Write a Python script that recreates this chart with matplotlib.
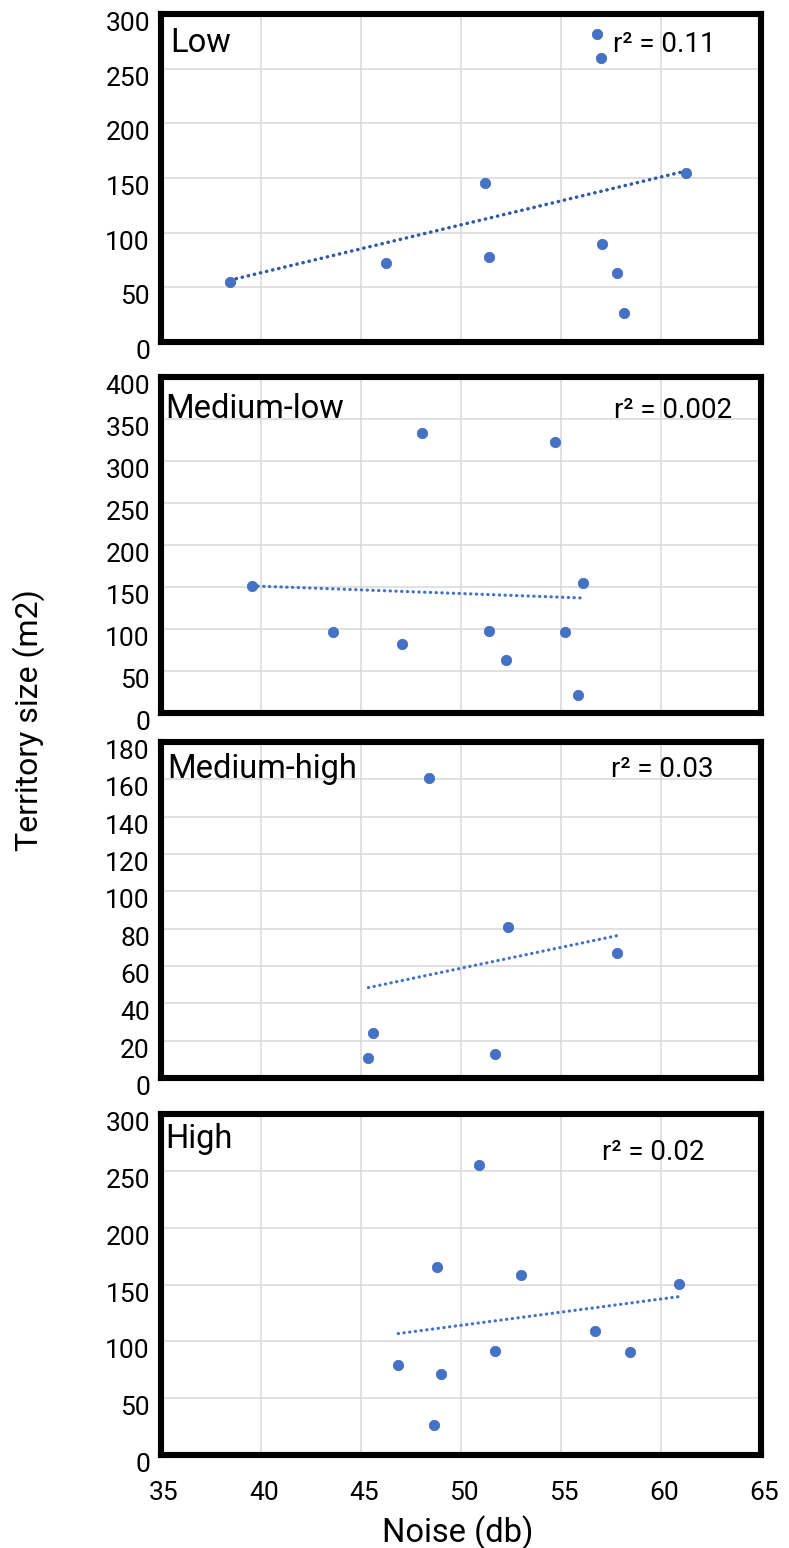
import matplotlib
matplotlib.use("Agg")
import matplotlib.pyplot as plt
import matplotlib.transforms as mtransforms
import numpy as np

plt.rcParams["font.family"] = ["Roboto", "DejaVu Sans"]

# values
low_noise = [38.45, 46.25, 51.18, 51.38, 56.82, 56.99, 57.06, 57.78, 58.17, 61.23]
low_size = [55.2, 72.0, 145.6, 77.5, 282.0, 259.8, 90.0, 62.9, 26.3, 155.0]

medlow_noise = [39.56, 43.60, 47.03, 48.06, 51.38, 52.27, 54.72, 55.18, 56.10, 55.86]
medlow_size = [151.5, 96.8, 81.7, 333.0, 97.2, 63.0, 322.6, 96.4, 155.2, 21.4]

medhigh_noise = [45.37, 45.59, 48.41, 51.68, 52.36, 57.80]
medhigh_size = [10.5, 23.9, 160.9, 12.7, 80.7, 66.8]

high_noise = [46.86, 48.65, 48.82, 49.02, 50.90, 51.70, 53.01, 56.71, 58.43, 60.90]
high_size = [79.0, 26.4, 165.2, 71.6, 255.3, 91.5, 158.7, 109.4, 90.9, 150.8]

panel_names = ["Low", "Medium-low", "Medium-high", "High"]
r2_labels = ["r² = 0.11", "r² = 0.002", "r² = 0.03", "r² = 0.02"]
y_maxes = [300, 400, 180, 300]
y_steps = [50, 50, 20, 50]
x_ticks = [35, 40, 45, 50, 55, 60, 65]

BLUE = "#4472C4"
trend_colors = ["#2F5AA6", BLUE, BLUE, BLUE]
W, H = 789, 1548

fig = plt.figure(figsize=(W / 100, H / 100), dpi=100)

# (top px, bottom px) of each plotting area
rows = [(14, 342), (377, 713), (742, 1078), (1114, 1455)]
left_px, right_px = 161, 761

# (label x, label baseline), (r2 x, r2 baseline) in axes fractions
label_pos = [(0.015, 0.885), (0.007, 0.878), (0.011, 0.893), (0.007, 0.900)]
r2_pos = [(0.753, 0.885), (0.755, 0.878), (0.750, 0.896), (0.735, 0.865)]

series = [
    (low_noise, low_size),
    (medlow_noise, medlow_size),
    (medhigh_noise, medhigh_size),
    (high_noise, high_size),
]

y_shift = mtransforms.ScaledTranslation(0, -7.5 / 100, fig.dpi_scale_trans)
x_shift = mtransforms.ScaledTranslation(3 / 100, 0, fig.dpi_scale_trans)

for i, (xs, ys) in enumerate(series):
    top, bot = rows[i]
    ax = fig.add_axes([left_px / W, 1 - bot / H, (right_px - left_px) / W, (bot - top) / H])
    ax.set_xlim(35, 65)
    ax.set_ylim(0, y_maxes[i])
    ax.set_xticks(x_ticks)
    ax.set_yticks(np.arange(0, y_maxes[i] + 1, y_steps[i]))
    ax.grid(True, color="#D9D9D9", linewidth=1.1)
    ax.set_axisbelow(True)
    for sp in ax.spines.values():
        sp.set_linewidth(4.4)
        sp.set_color("black")
    ax.tick_params(length=0, labelsize=19, pad=8)
    ax.tick_params(axis="x", pad=19)
    if i < 3:
        ax.tick_params(labelbottom=False)
    for lab in ax.get_yticklabels():
        lab.set_transform(lab.get_transform() + y_shift)
    for lab in ax.get_xticklabels():
        lab.set_transform(lab.get_transform() + x_shift)

    xa = np.array(xs)
    ya = np.array(ys)
    slope, icpt = np.polyfit(xa, ya, 1)
    fx = np.array([xa.min(), xa.max()])
    ax.plot(fx, slope * fx + icpt, color=trend_colors[i], linewidth=2.5 if i == 0 else 2.3,
            linestyle=(0, (0.1, 1.7)), dash_capstyle="round", zorder=2)
    ax.scatter(xa, ya, s=56, color=BLUE, edgecolors="#3F68B5", linewidths=0.5, zorder=3)

    ax.text(label_pos[i][0], label_pos[i][1], panel_names[i], transform=ax.transAxes,
            fontsize=23.5, va="baseline", ha="left")
    ax.text(r2_pos[i][0], r2_pos[i][1], r2_labels[i], transform=ax.transAxes,
            fontsize=20, va="baseline", ha="left")

fig.text(458 / W, 1 - 1533 / H, "Noise (db)", fontsize=23.5, ha="center", va="center")
fig.text(29 / W, 1 - 720 / H, "Territory size (m2)", fontsize=23, ha="center",
         va="center", rotation=90)

fig.savefig("out.png", dpi=100)
